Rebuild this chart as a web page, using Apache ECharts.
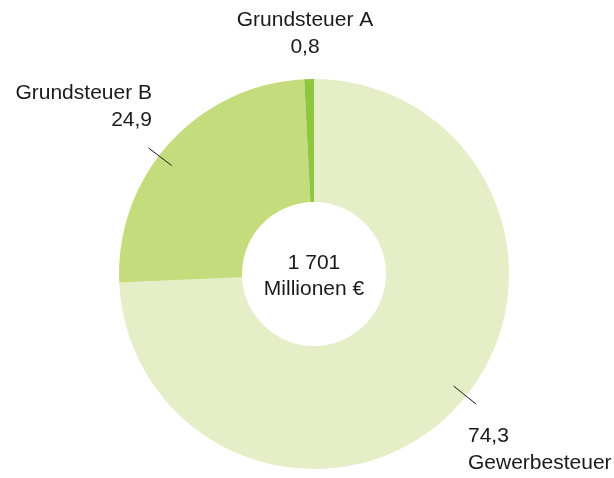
<!DOCTYPE html>
<html>
<head>
<meta charset="utf-8">
<script src="https://cdn.jsdelivr.net/npm/echarts@6/dist/echarts.min.js"></script>
<style>
  html, body { margin: 0; padding: 0; background: #fff; }
  #chart { width: 614px; height: 478px; }
</style>
</head>
<body>
<div id="chart"></div>
<script>
const categories = ['Gewerbesteuer', 'Grundsteuer B', 'Grundsteuer A'];
const shares = [74.3, 24.9, 0.8];
const sliceColors = ['#e5eec6', '#c5dc7d', '#8dc63f'];
const totalMillions = 1701;
const totalUnit = 'Millionen €';

const fontFamily = 'Liberation Sans';
const textColor = '#1a1a1a';
const center = [314, 274];

const fmtShare = (v) => v.toFixed(1).replace('.', ',');
const fmtTotal = (v) => String(v).replace(/\B(?=(\d{3})+(?!\d))/g, ' ');

// where each label sits (anchor, alignment) and how its text is stacked
const labelSpots = [
  { x: 468, y: 450, align: 'left', order: 'valueFirst' },
  { x: 152, y: 107, align: 'right', order: 'nameFirst' },
  { x: 305, y: 34, align: 'center', order: 'nameFirst' },
];

const chart = echarts.init(document.getElementById('chart'));

const pieData = categories.map((name, i) => ({
  name,
  value: shares[i],
  itemStyle: { color: sliceColors[i] },
}));

chart.setOption({
  backgroundColor: '#ffffff',
  animation: false,
  series: [
    {
      // the donut with its labels (no lines)
      type: 'pie',
      z: 2,
      center,
      radius: [72, 195],
      startAngle: 90,
      clockwise: true,
      silent: true,
      avoidLabelOverlap: false,
      label: {
        show: true,
        position: 'outside',
        color: textColor,
        fontFamily,
        fontSize: 21,
        lineHeight: 27,
        formatter: (p) => {
          const spot = labelSpots[p.dataIndex];
          return spot.order === 'valueFirst'
            ? fmtShare(p.value) + '\n' + p.name
            : p.name + '\n' + fmtShare(p.value);
        },
      },
      labelLine: { show: false },
      labelLayout: (p) => {
        const spot = labelSpots[p.dataIndex];
        return { x: spot.x, y: spot.y, align: spot.align, verticalAlign: 'middle' };
      },
      data: pieData,
    },
    {
      // short radial tick marks crossing the outer edge
      type: 'pie',
      z: 5,
      center,
      radius: [0, 179],
      startAngle: 95,
      clockwise: true,
      silent: true,
      avoidLabelOverlap: false,
      itemStyle: { color: 'rgba(0,0,0,0)' },
      label: { show: true, formatter: ' ', fontSize: 1 },
      labelLine: {
        show: true,
        length: 29,
        length2: 0,
        lineStyle: { color: '#1a1a1a', width: 1 },
      },
      data: categories.map((name, i) => ({
        name,
        value: shares[i],
        label: { show: i < 2 },
        labelLine: { show: i < 2 },
      })),
    },
    {
      // centre total
      type: 'pie',
      z: 5,
      center: [314, 276],
      radius: [0, 70],
      silent: true,
      itemStyle: { color: 'rgba(0,0,0,0)' },
      label: {
        show: true,
        position: 'center',
        color: textColor,
        fontFamily,
        fontSize: 21,
        lineHeight: 26,
        formatter: () => fmtTotal(totalMillions) + '\n' + totalUnit,
      },
      labelLine: { show: false },
      data: [{ name: 'total', value: totalMillions }],
    },
  ],
});
</script>
</body>
</html>
